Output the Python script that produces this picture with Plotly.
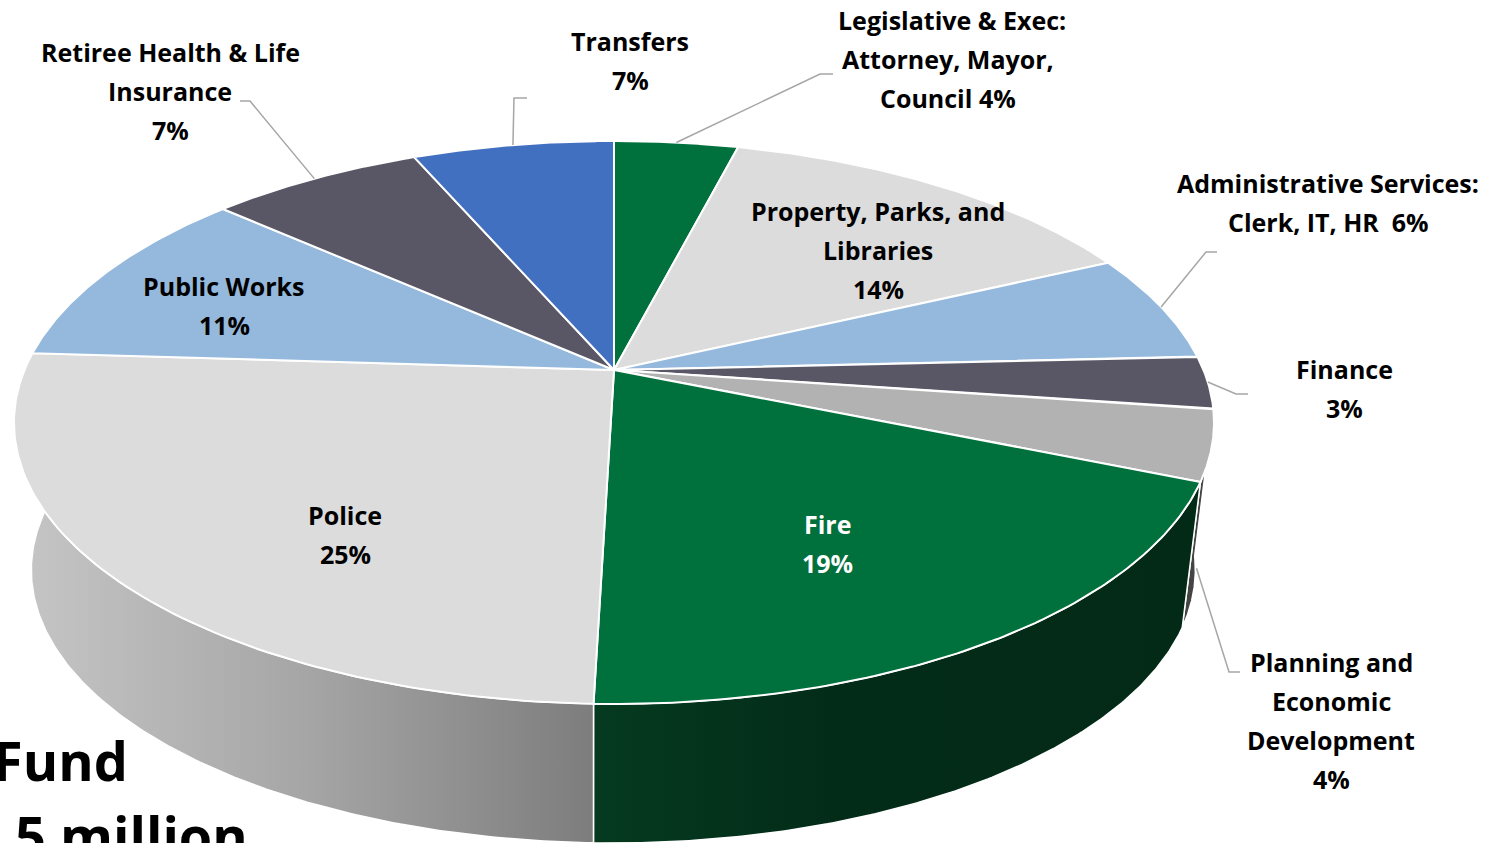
import numpy as np
import plotly.graph_objects as go

# slices clockwise from 12 o'clock, shares as drawn in the picture
categories = ['Legislative', 'Property', 'Admin', 'Finance', 'Planning',
              'Fire', 'Police', 'Public Works', 'Retiree', 'Transfers']
shares = [4.0, 14.0, 6.2, 3.0, 4.05, 19.2, 25.55, 10.6, 6.9, 6.5]
colors = ['#00703c', '#dcdcdc', '#95b9dd', '#595766', '#b2b2b2',
          '#00703c', '#dcdcdc', '#95b9dd', '#595766', '#4270c1']

# one entry per text line: text, centre x, centre y
label_lines = [
    ('Retiree Health & Life', 170, 52), ('Insurance', 170, 91), ('7%', 170, 130),
    ('Transfers', 630, 41), ('7%', 630, 80),
    ('Legislative & Exec:', 952, 20), ('Attorney, Mayor,', 948, 59), ('Council 4%', 948, 98),
    ('Administrative Services:', 1328, 183), ('Clerk, IT, HR  6%', 1328, 222),
    ('Property, Parks, and', 878, 211), ('Libraries', 878, 250), ('14%', 878, 289),
    ('Finance', 1344, 369), ('3%', 1344, 408),
    ('Public Works', 224, 286), ('11%', 224, 325),
    ('Police', 345, 515), ('25%', 345, 554),
    ('Planning and', 1331, 662), ('Economic', 1331, 701),
    ('Development', 1331, 740), ('4%', 1331, 779),
]
white_lines = [('Fire', 827, 524), ('19%', 827, 563)]
title_lines = [('General Fund', 130, 760), ('$33.5 million', 250, 835)]

# leader lines: slice, elbow, end of line, how far down the wall it starts
leaders = [
    ('Legislative', (820, 74), (833, 74), 0),
    ('Admin', (1206, 252), (1217, 252), 0),
    ('Finance', (1236, 394), (1248, 394), 0),
    ('Planning', (1229, 672), (1240, 672), 0.84),
    ('Retiree', (250, 101), (240, 101), 0),
    ('Transfers', (514, 98), (527, 98), 0),
]

# perspective of the pie on the page
CX, CY = 614, 370
A, B, K = 589.5, 271.7, 0.1865
VP_X, VP_Y, DEPTH = 592, 5337, 0.97
LABEL_FONT = 'Open Sans'


def top_rim(pct):
    t = np.radians(np.asarray(pct) * 3.6)
    u, v = np.sin(t), -np.cos(t)
    d = 1 - K * v
    return CX + A * u / d, CY + B * v / d


def to_bottom(x, y):
    return VP_X + (x - VP_X) * DEPTH, VP_Y + (y - VP_Y) * DEPTH


def outside_top(x, y):
    yy = (y - CY) / B
    d = 1 + K * yy
    return ((x - CX) / A / d) ** 2 + (yy / d) ** 2 > 1


edges = np.concatenate([[0], np.cumsum(shares)])
span = {c: (edges[i], edges[i + 1]) for i, c in enumerate(categories)}

fig = go.Figure()


def add_wall(name, fill, gradient=None):
    p0, p1 = span[name]
    pct = np.linspace(p0, p1, 160)
    x, y = top_rim(pct)
    xb, yb = to_bottom(x, y)
    keep = outside_top(xb, yb)
    x, y, xb, yb = x[keep], y[keep], xb[keep], yb[keep]
    px = np.concatenate([x, xb[::-1], x[:1]])
    py = np.concatenate([y, yb[::-1], y[:1]])
    trace = go.Scatter(x=px, y=py, mode='lines', fill='toself', fillcolor=fill,
                       line=dict(color='white', width=1.5), hoverinfo='skip')
    if gradient:
        trace.fillgradient = dict(type='horizontal', colorscale=gradient,
                                  start=px.min(), stop=px.max())
    fig.add_trace(trace)


add_wall('Planning', '#444444')
add_wall('Fire', '#032e19', [[0, '#053a20'], [0.4, '#032c18'], [1, '#032a16']])
add_wall('Police', '#aaaaaa', [[0, '#c6c6c6'], [0.5, '#a6a6a6'], [1, '#7d7d7d']])

for name, color in zip(categories, colors):
    p0, p1 = span[name]
    x, y = top_rim(np.linspace(p0, p1, 100))
    fig.add_trace(go.Scatter(x=np.concatenate([[CX], x, [CX]]),
                             y=np.concatenate([[CY], y, [CY]]),
                             mode='lines', fill='toself', fillcolor=color,
                             line=dict(color='white', width=2), hoverinfo='skip'))

for name, elbow, end, down in leaders:
    x0, y0 = top_rim(sum(span[name]) / 2)
    xb, yb = to_bottom(x0, y0)
    fig.add_trace(go.Scatter(x=[x0 + (xb - x0) * down, elbow[0], end[0]],
                             y=[y0 + (yb - y0) * down, elbow[1], end[1]],
                             mode='lines', line=dict(color='#a6a6a6', width=1.5),
                             hoverinfo='skip'))


def add_text(text, x, y, size, color='black', anchor='center'):
    fig.add_annotation(x=x, y=y, text='<b>%s</b>' % text.replace('  ', '&nbsp; '),
                       showarrow=False, xanchor=anchor, yanchor='middle',
                       font=dict(family=LABEL_FONT, size=size, color=color))


for text, x, y in label_lines:
    add_text(text, x, y, 25)
for text, x, y in white_lines:
    add_text(text, x, y, 25, color='white')
for text, x, y in title_lines:
    add_text(text, x, y, 54, anchor='right')

fig.update_layout(width=1494, height=843, margin=dict(l=0, r=0, t=0, b=0),
                  showlegend=False, paper_bgcolor='white', plot_bgcolor='white',
                  xaxis=dict(range=[0, 1494], visible=False),
                  yaxis=dict(range=[843, 0], visible=False))

fig.write_html("out.html", config=dict(displayModeBar=False),
               post_script="document.body.style.margin='0';document.body.style.overflow='hidden';")
